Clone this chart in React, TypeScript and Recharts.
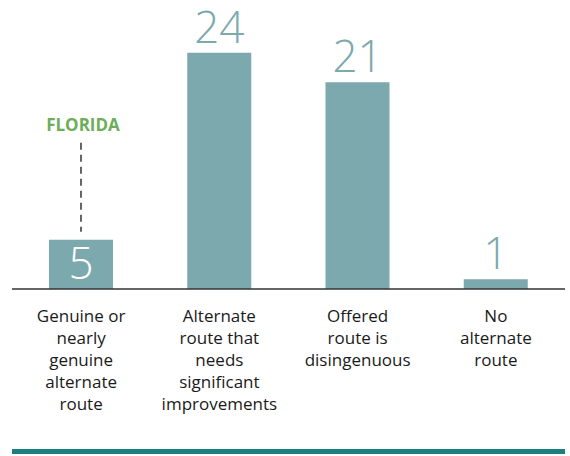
import { BarChart, Bar, XAxis, YAxis, LabelList } from 'recharts'

const categories = [
  'Genuine or nearly genuine alternate route',
  'Alternate route that needs significant improvements',
  'Offered route is disingenuous',
  'No alternate route',
]
const tickLines = [
  ['Genuine or', 'nearly', 'genuine', 'alternate', 'route'],
  ['Alternate', 'route that', 'needs', 'significant', 'improvements'],
  ['Offered', 'route is', 'disingenuous'],
  ['No', 'alternate', 'route'],
]
const counts = [5, 24, 21, 1]
const notes = ['FLORIDA', '', '', '']

const BAR = '#7ba9ae'
const FONT = '"Open Sans", sans-serif'

const data = categories.map((c, i) => ({ category: c, count: counts[i], note: notes[i] }))

function CategoryTick({ x, y, payload }: any) {
  const lines = tickLines[categories.indexOf(payload.value)] || [payload.value]
  return (
    <text x={x} y={y} textAnchor="middle" fill="#1a1a1a" fontSize={17} fontFamily={FONT}>
      {lines.map((l, i) => (
        <tspan key={i} x={x} dy={i === 0 ? 33 : 22}>{l}</tspan>
      ))}
    </text>
  )
}

function ValueLabel({ x, y, width, height, value, index }: any) {
  const cx = x + width / 2
  const note = notes[index]
  if (note) {
    // value sits inside the bar, annotation floats above with a dashed leader
    return (
      <g>
        <text x={cx} y={y + height / 2 + 15} textAnchor="middle" fill="#fff" fontSize={44} fontWeight={300} fontFamily={FONT}>
          {value}
        </text>
        <line x1={cx} x2={cx} y1={y - 97} y2={y - 8} stroke="#333" strokeWidth={1.5} strokeDasharray="7 5" />
        <text x={cx + 2} y={y - 109} textAnchor="middle" fill="#6cae5a" fontSize={17} fontWeight={700} fontFamily={FONT}>
          {note}
        </text>
      </g>
    )
  }
  return (
    <text x={cx} y={y - 10} textAnchor="middle" fill={BAR} fontSize={44} fontWeight={300} fontFamily={FONT}>
      {value}
    </text>
  )
}

export default function App() {
  return (
    <div style={{ position: 'absolute', left: 0, top: 0, width: 570, height: 456, background: '#fff' }}>
      <BarChart width={570} height={456} data={data} margin={{ top: 29, right: 5, left: 12, bottom: 7 }}>
        <XAxis
          dataKey="category"
          interval={0}
          axisLine={{ stroke: '#333', strokeWidth: 1.5 }}
          tickLine={false}
          tickSize={0}
          tickMargin={0}
          height={160}
          tick={<CategoryTick />}
        />
        <YAxis hide domain={[0, 26.4]} />
        <Bar dataKey="count" fill={BAR} barSize={64} isAnimationActive={false}>
          <LabelList dataKey="count" content={<ValueLabel />} />
        </Bar>
      </BarChart>
      <div style={{ position: 'absolute', left: 12, top: 449, width: 553, height: 5, background: '#1b7f80' }} />
    </div>
  )
}
